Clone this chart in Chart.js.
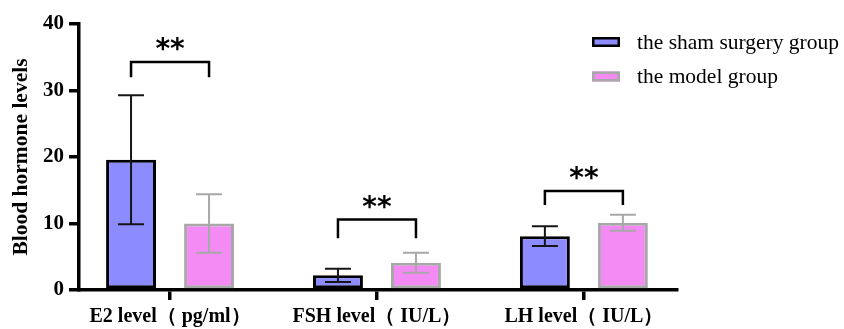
<!DOCTYPE html>
<html>
<head>
<meta charset="utf-8">
<script src="https://cdn.jsdelivr.net/npm/chart.js@4"></script>
<style>
  html, body { margin: 0; padding: 0; background: #fff; }
  #wrap { width: 844px; height: 329px; position: relative; }
</style>
</head>
<body>
<div id="wrap"><canvas id="c"></canvas></div>
<script>
// ---- Data ----
const categories = ['E2 level（ pg/ml）', 'FSH level（ IU/L）', 'LH level（ IU/L）'];
const seriesNames = ['the sham surgery group', 'the model group'];
const shamMeans = [19.6, 2.2, 8.1];
const shamSD = [9.7, 1.0, 1.5];
const modelMeans = [10.0, 4.1, 10.1];
const modelSD = [4.4, 1.5, 1.2];
const yTicks = [0, 10, 20, 30, 40];
// significance brackets (y values in data units)
const bracketTop = [34.3, 10.6, 14.9];
const bracketEnd = [32.0, 7.8, 12.8];
const sigLabels = ['**', '**', '**'];

const SERIF = '"Liberation Serif", "Times New Roman", serif';
const shamFill = '#8c8cff', shamBorder = '#000000';
const modelFill = '#f48af4', modelBorder = '#a8a8a8';

const errorBarPlugin = {
  id: 'errorBars',
  afterDatasetsDraw(chart) {
    const ctx = chart.ctx;
    const y = chart.scales.y;
    const sds = [shamSD, modelSD];
    const means = [shamMeans, modelMeans];
    const colors = ['#161616', '#a8a8a8'];
    ctx.save();
    for (let d = 0; d < 2; d++) {
      const meta = chart.getDatasetMeta(d);
      meta.data.forEach((el, i) => {
        const x = el.x;
        const top = y.getPixelForValue(means[d][i] + sds[d][i]);
        const bot = y.getPixelForValue(means[d][i] - sds[d][i]);
        const half = 13;
        ctx.strokeStyle = colors[d];
        ctx.lineWidth = 2;
        ctx.beginPath();
        ctx.moveTo(x, top); ctx.lineTo(x, bot);
        ctx.moveTo(x - half, top); ctx.lineTo(x + half, top);
        ctx.moveTo(x - half, bot); ctx.lineTo(x + half, bot);
        ctx.stroke();
      });
    }
    // significance brackets
    const m0 = chart.getDatasetMeta(0), m1 = chart.getDatasetMeta(1);
    ctx.strokeStyle = '#000';
    ctx.lineWidth = 2.5;
    ctx.fillStyle = '#000';
    ctx.font = 'bold 28px "DejaVu Sans", sans-serif';
    ctx.textAlign = 'center';
    ctx.textBaseline = 'alphabetic';
    categories.forEach((c, i) => {
      const x0 = m0.data[i].x, x1 = m1.data[i].x;
      const yt = y.getPixelForValue(bracketTop[i]);
      const ye = y.getPixelForValue(bracketEnd[i]);
      ctx.beginPath();
      ctx.moveTo(x0, ye); ctx.lineTo(x0, yt); ctx.lineTo(x1, yt); ctx.lineTo(x1, ye);
      ctx.stroke();
      ctx.fillText(sigLabels[i], (x0 + x1) / 2, yt - 4);
    });
    ctx.restore();
  }
};

const legendPlugin = {
  id: 'customLegend',
  afterDraw(chart) {
    const ctx = chart.ctx;
    ctx.save();
    const fills = [shamFill, modelFill], borders = [shamBorder, modelBorder];
    chart.data.datasets.forEach((ds, k) => {
      const cy = 42 + k * 34.5;
      ctx.fillStyle = fills[k];
      ctx.fillRect(592, cy - 5, 28, 10);
      ctx.strokeStyle = borders[k];
      ctx.lineWidth = 2.5;
      ctx.strokeRect(593.25, cy - 3.75, 25.5, 7.5);
      ctx.fillStyle = '#000';
      ctx.font = '21.5px ' + SERIF;
      ctx.textAlign = 'left';
      ctx.textBaseline = 'middle';
      ctx.fillText(ds.label, 637, cy + 1);
    });
    ctx.restore();
  }
};

new Chart(document.getElementById('c'), {
  type: 'bar',
  data: {
    datasets: [
      {
        label: seriesNames[0],
        data: shamMeans.map((v, i) => ({ x: i, y: v })),
        backgroundColor: shamFill,
        borderColor: shamBorder,
        borderWidth: 3,
        borderSkipped: false
      },
      {
        label: seriesNames[1],
        data: modelMeans.map((v, i) => ({ x: i, y: v })),
        backgroundColor: modelFill,
        borderColor: modelBorder,
        borderWidth: 3,
        borderSkipped: false
      }
    ]
  },
  options: {
    responsive: true,
    maintainAspectRatio: false,
    animation: false,
    devicePixelRatio: 1,
    categoryPercentage: 0.754,
    barPercentage: 0.64,
    layout: { padding: { top: 24, right: 167, bottom: 0, left: 0 } },
    plugins: { legend: { display: false }, tooltip: { enabled: false } },
    scales: {
      x: {
        type: 'linear',
        min: -0.44,
        max: 2.45,
        offset: false,
        afterBuildTicks: (s) => { s.ticks = categories.map((c, i) => ({ value: i })); },
        afterFit: (s) => { s.height = 39; },
        ticks: {
          autoSkip: false,
          maxRotation: 0,
          padding: 5,
          color: '#000',
          font: { family: SERIF, size: 20, weight: 'bold' },
          callback: (v) => categories[v]
        },
        grid: { offset: false, drawOnChartArea: false, drawTicks: true, tickLength: 10, tickWidth: 3.5, tickColor: '#000', color: '#000', lineWidth: 3.5 },
        border: { display: true, color: '#000', width: 3.5 }
      },
      y: {
        min: 0,
        max: 40,
        afterBuildTicks: (s) => { s.ticks = yTicks.map(v => ({ value: v })); },
        afterFit: (s) => { s.width = 79; },
        ticks: {
          padding: 5,
          color: '#000',
          font: { family: SERIF, size: 21, weight: 'bold' }
        },
        grid: { drawOnChartArea: false, drawTicks: true, tickLength: 10, tickWidth: 3.5, tickColor: '#000', color: '#000', lineWidth: 3.5 },
        border: { display: true, color: '#000', width: 3.5 },
        title: {
          display: true,
          text: 'Blood hormone levels',
          color: '#000',
          font: { family: SERIF, size: 21.5, weight: 'bold' },
          padding: { top: 9, bottom: 0 }
        }
      }
    }
  },
  plugins: [errorBarPlugin, legendPlugin]
});
</script>
</body>
</html>
